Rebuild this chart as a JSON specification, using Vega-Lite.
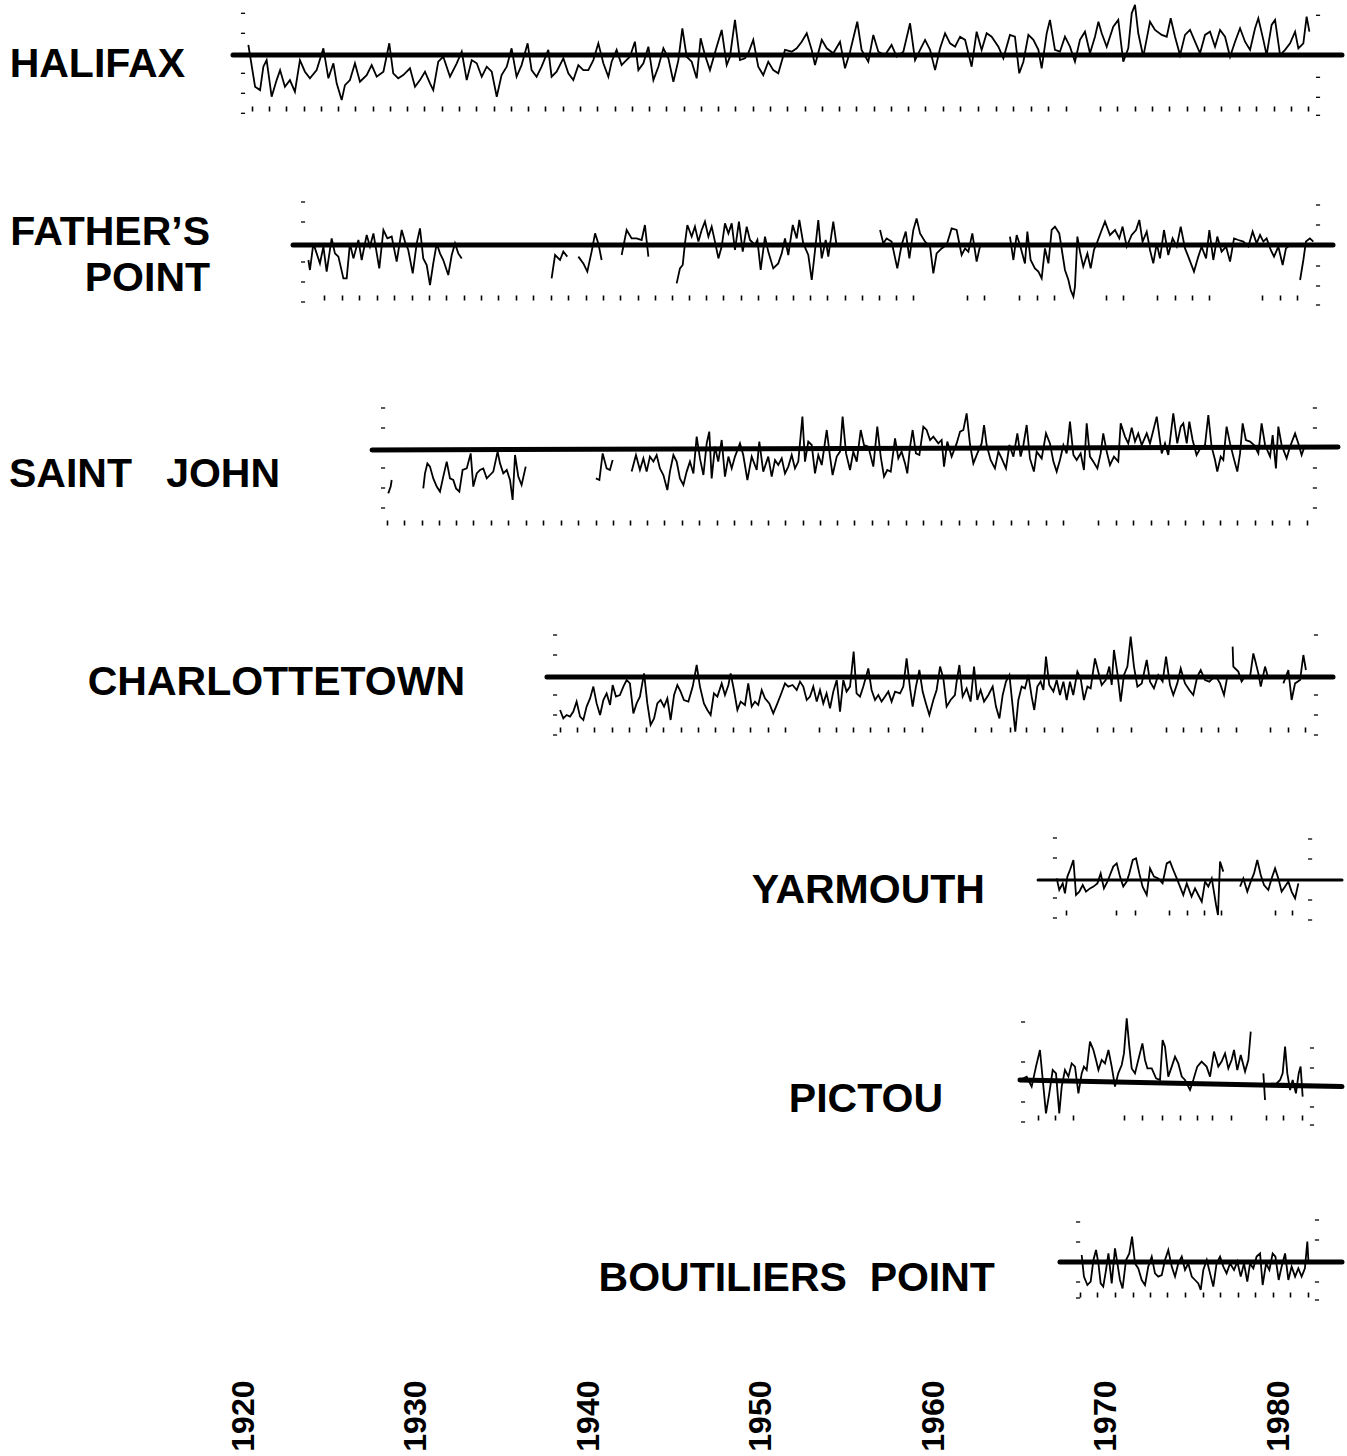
{
"$schema": "https://vega.github.io/schema/vega-lite/v6.json",
"padding": 0,
"background": "white",
"spacing": 0,
"bounds": "flush",
"resolve": {"scale": {"x": "independent", "y": "independent"}, "axis": {"x": "independent", "y": "independent"}},
"config": {"view": {"stroke": null}, "concat": {"spacing": 0}},
"datasets": {
"hal": [
{"t":1920.31,"v":0.42},{"t":1920.70,"v":-1.67},{"t":1920.99,"v":-1.84},{"t":1921.18,"v":-0.67},{"t":1921.37,"v":-0.34},{"t":1921.66,"v":-2.17},{"t":1921.95,"v":-1.34},{"t":1922.15,"v":-0.84},{"t":1922.43,"v":-1.67},{"t":1922.72,"v":-1.34},{"t":1923.01,"v":-1.92},{"t":1923.30,"v":-0.34},{"t":1923.59,"v":-0.92},{"t":1923.88,"v":-1.25},{"t":1924.27,"v":-0.84},{"t":1924.66,"v":0.25},{"t":1924.95,"v":-1.25},{"t":1925.24,"v":-0.50},{"t":1925.43,"v":-1.50},{"t":1925.72,"v":-2.34},{"t":1925.91,"v":-1.59},{"t":1926.20,"v":-1.34},{"t":1926.49,"v":-0.50},{"t":1926.78,"v":-1.42},{"t":1927.17,"v":-1.09},{"t":1927.46,"v":-0.59},{"t":1927.75,"v":-1.17},{"t":1928.14,"v":-0.92},{"t":1928.48,"v":0.50},{"t":1928.71,"v":-1.00},{"t":1929.00,"v":-1.25},{"t":1929.29,"v":-1.09},{"t":1929.68,"v":-0.75},{"t":1929.97,"v":-1.67},{"t":1930.26,"v":-1.34},{"t":1930.55,"v":-0.92},{"t":1930.84,"v":-1.50},{"t":1931.03,"v":-1.84},{"t":1931.32,"v":-0.42},{"t":1931.61,"v":-0.17},{"t":1932.00,"v":-1.17},{"t":1932.39,"v":-0.50},{"t":1932.68,"v":0.08},{"t":1932.97,"v":-1.34},{"t":1933.26,"v":-0.34},{"t":1933.55,"v":-0.50},{"t":1933.84,"v":-1.17},{"t":1934.13,"v":-0.67},{"t":1934.42,"v":-0.92},{"t":1934.71,"v":-2.17},{"t":1934.99,"v":-1.09},{"t":1935.29,"v":-0.67},{"t":1935.57,"v":0.25},{"t":1935.86,"v":-1.17},{"t":1936.15,"v":-0.59},{"t":1936.50,"v":0.50},{"t":1936.73,"v":-0.84},{"t":1937.02,"v":-1.17},{"t":1937.31,"v":-0.67},{"t":1937.70,"v":0.17},{"t":1937.89,"v":-1.17},{"t":1938.18,"v":-0.92},{"t":1938.57,"v":-0.25},{"t":1938.86,"v":-1.00},{"t":1939.15,"v":-1.34},{"t":1939.44,"v":-0.59},{"t":1939.73,"v":-0.84},{"t":1940.02,"v":-0.84},{"t":1940.31,"v":-0.34},{"t":1940.60,"v":0.50},{"t":1940.89,"v":-0.50},{"t":1941.18,"v":-1.17},{"t":1941.37,"v":-0.42},{"t":1941.66,"v":0.17},{"t":1941.95,"v":-0.59},
{"t":1942.14,"v":-0.42},{"t":1942.43,"v":-0.17},{"t":1942.72,"v":0.58},{"t":1942.92,"v":-0.84},{"t":1943.21,"v":-0.50},{"t":1943.50,"v":0.33},{"t":1943.79,"v":-1.34},{"t":1944.08,"v":-0.67},{"t":1944.37,"v":0.25},{"t":1944.66,"v":-0.25},{"t":1944.95,"v":-1.42},{"t":1945.24,"v":-0.34},{"t":1945.47,"v":1.25},{"t":1945.72,"v":-0.17},{"t":1946.01,"v":-0.42},{"t":1946.30,"v":-1.25},{"t":1946.53,"v":0.75},{"t":1946.78,"v":-0.09},{"t":1947.07,"v":-0.84},{"t":1947.46,"v":0.33},{"t":1947.75,"v":1.17},{"t":1948.04,"v":-0.59},{"t":1948.23,"v":-0.17},{"t":1948.52,"v":1.67},{"t":1948.81,"v":-0.34},{"t":1949.10,"v":-0.25},{"t":1949.29,"v":0.00},{"t":1949.58,"v":0.67},{"t":1949.87,"v":-0.67},{"t":1950.16,"v":-1.09},{"t":1950.45,"v":-0.42},{"t":1950.74,"v":-0.84},{"t":1951.03,"v":-1.00},{"t":1951.42,"v":0.17},{"t":1951.81,"v":0.08},{"t":1952.10,"v":0.25},{"t":1952.39,"v":0.58},{"t":1952.68,"v":1.00},{"t":1952.97,"v":0.17},{"t":1953.16,"v":-0.59},{"t":1953.55,"v":0.67},{"t":1953.84,"v":0.25},{"t":1954.22,"v":0.00},{"t":1954.61,"v":0.58},{"t":1954.90,"v":-0.75},{"t":1955.19,"v":0.08},{"t":1955.61,"v":1.58},{"t":1955.86,"v":0.17},{"t":1956.25,"v":-0.42},{"t":1956.54,"v":0.92},{"t":1956.83,"v":0.08},{"t":1957.22,"v":-0.09},{"t":1957.60,"v":0.42},{"t":1957.89,"v":-0.17},{"t":1958.28,"v":0.08},{"t":1958.67,"v":1.50},{"t":1958.96,"v":-0.34},{"t":1959.25,"v":0.17},{"t":1959.54,"v":0.67},{"t":1959.83,"v":0.17},{"t":1960.12,"v":-0.84},{"t":1960.41,"v":0.25},{"t":1960.70,"v":1.00},{"t":1960.99,"v":0.50},{"t":1961.28,"v":0.33},{"t":1961.57,"v":0.83},{"t":1961.86,"v":0.67},{"t":1962.24,"v":-0.67},{"t":1962.53,"v":1.08},{"t":1962.82,"v":0.17},{"t":1963.11,"v":1.00},{"t":1963.40,"v":0.83},{"t":1963.79,"v":0.33},{"t":1964.08,"v":-0.25},{"t":1964.46,"v":0.92},{"t":1964.75,"v":0.83},{"t":1965.00,"v":-1.00},
{"t":1965.24,"v":-0.42},{"t":1965.53,"v":0.92},{"t":1965.82,"v":0.67},{"t":1966.11,"v":0.17},{"t":1966.30,"v":-0.75},{"t":1966.59,"v":1.00},{"t":1966.78,"v":1.67},{"t":1967.07,"v":0.17},{"t":1967.36,"v":0.08},{"t":1967.65,"v":0.83},{"t":1967.94,"v":0.33},{"t":1968.23,"v":-0.42},{"t":1968.52,"v":0.67},{"t":1968.81,"v":1.08},{"t":1969.10,"v":0.00},{"t":1969.39,"v":0.83},{"t":1969.59,"v":1.58},{"t":1969.78,"v":1.00},{"t":1970.07,"v":0.33},{"t":1970.45,"v":1.33},{"t":1970.74,"v":1.67},{"t":1971.03,"v":-0.42},{"t":1971.32,"v":0.25},{"t":1971.52,"v":2.00},{"t":1971.71,"v":2.42},{"t":1971.90,"v":1.00},{"t":1972.19,"v":-0.17},{"t":1972.58,"v":1.58},{"t":1972.87,"v":1.17},{"t":1973.26,"v":0.92},{"t":1973.55,"v":0.83},{"t":1973.78,"v":1.75},{"t":1974.03,"v":0.83},{"t":1974.32,"v":-0.09},{"t":1974.61,"v":0.92},{"t":1974.90,"v":1.17},{"t":1975.19,"v":0.58},{"t":1975.48,"v":0.00},{"t":1975.77,"v":0.92},{"t":1976.06,"v":1.08},{"t":1976.35,"v":0.33},{"t":1976.64,"v":1.17},{"t":1976.93,"v":0.83},{"t":1977.22,"v":-0.17},{"t":1977.51,"v":0.58},{"t":1977.80,"v":1.25},{"t":1978.09,"v":0.58},{"t":1978.38,"v":0.17},{"t":1978.67,"v":1.25},{"t":1978.86,"v":1.75},{"t":1979.15,"v":0.67},{"t":1979.34,"v":-0.09},{"t":1979.63,"v":1.42},{"t":1979.83,"v":1.67},{"t":1980.12,"v":-0.09},{"t":1980.41,"v":0.17},{"t":1980.70,"v":0.50},{"t":1980.99,"v":1.08},{"t":1981.18,"v":0.25},{"t":1981.47,"v":0.50},{"t":1981.66,"v":1.83},{"t":1981.82,"v":1.08}
],
"fat": [
{"t":1923.79,"v":-0.90,"g":1},{"t":1923.88,"v":-1.40,"g":1},{"t":1924.08,"v":-0.07,"g":1},{"t":1924.27,"v":-0.57,"g":1},{"t":1924.46,"v":-1.07,"g":1},{"t":1924.66,"v":-0.23,"g":1},{"t":1924.85,"v":-1.48,"g":1},{"t":1925.14,"v":0.18,"g":1},{"t":1925.33,"v":-0.57,"g":1},{"t":1925.53,"v":-0.73,"g":1},{"t":1925.82,"v":-1.82,"g":1},{"t":1926.01,"v":-1.82,"g":1},{"t":1926.20,"v":-0.07,"g":1},{"t":1926.40,"v":-0.82,"g":1},{"t":1926.69,"v":0.10,"g":1},{"t":1926.88,"v":-0.90,"g":1},{"t":1927.17,"v":0.35,"g":1},{"t":1927.36,"v":-0.23,"g":1},{"t":1927.56,"v":0.43,"g":1},{"t":1927.90,"v":-1.32,"g":1},{"t":1928.14,"v":0.60,"g":1},{"t":1928.37,"v":0.18,"g":1},{"t":1928.62,"v":0.27,"g":1},{"t":1928.91,"v":-0.98,"g":1},{"t":1929.20,"v":0.60,"g":1},{"t":1929.39,"v":0.02,"g":1},{"t":1929.58,"v":-0.40,"g":1},{"t":1929.84,"v":-1.57,"g":1},{"t":1930.07,"v":-0.07,"g":1},{"t":1930.26,"v":0.68,"g":1},{"t":1930.45,"v":-0.82,"g":1},{"t":1930.65,"v":-1.15,"g":1},{"t":1930.84,"v":-2.15,"g":1},{"t":1931.03,"v":-1.07,"g":1},{"t":1931.23,"v":-0.07,"g":1},{"t":1931.42,"v":-0.57,"g":1},{"t":1931.61,"v":-0.90,"g":1},{"t":1931.90,"v":-1.65,"g":1},{"t":1932.10,"v":-0.65,"g":1},{"t":1932.29,"v":-0.07,"g":1},{"t":1932.48,"v":-0.57,"g":1},{"t":1932.68,"v":-0.82,"g":1},
{"t":1937.89,"v":-1.82,"g":2},{"t":1938.09,"v":-0.65,"g":2},{"t":1938.38,"v":-0.90,"g":2},{"t":1938.57,"v":-0.48,"g":2},{"t":1938.80,"v":-0.73,"g":2},
{"t":1939.44,"v":-0.73,"g":3},{"t":1939.73,"v":-1.07,"g":3},{"t":1939.96,"v":-1.48,"g":3},{"t":1940.21,"v":-0.48,"g":3},{"t":1940.41,"v":0.43,"g":3},{"t":1940.60,"v":-0.07,"g":3},{"t":1940.79,"v":-0.90,"g":3},
{"t":1941.95,"v":-0.65,"g":4},{"t":1942.24,"v":0.60,"g":4},{"t":1942.53,"v":0.18,"g":4},{"t":1942.82,"v":0.18,"g":4},{"t":1943.11,"v":0.10,"g":4},{"t":1943.30,"v":0.85,"g":4},{"t":1943.50,"v":-0.73,"g":4},
{"t":1945.14,"v":-2.07,"g":5},{"t":1945.33,"v":-1.32,"g":5},{"t":1945.49,"v":-1.15,"g":5},{"t":1945.62,"v":-0.07,"g":5},{"t":1945.76,"v":0.85,"g":5},{"t":1946.01,"v":0.27,"g":5},{"t":1946.20,"v":0.77,"g":5},{"t":1946.40,"v":0.02,"g":5},{"t":1946.59,"v":0.60,"g":5},{"t":1946.78,"v":1.02,"g":5},{"t":1946.98,"v":0.27,"g":5},{"t":1947.17,"v":0.77,"g":5},{"t":1947.36,"v":0.02,"g":5},{"t":1947.56,"v":-0.82,"g":5},{"t":1947.75,"v":-0.23,"g":5},{"t":1947.94,"v":0.93,"g":5},{"t":1948.14,"v":0.43,"g":5},{"t":1948.33,"v":0.93,"g":5},{"t":1948.52,"v":-0.40,"g":5},{"t":1948.75,"v":1.02,"g":5},{"t":1948.97,"v":-0.48,"g":5},{"t":1949.20,"v":0.77,"g":5},{"t":1949.39,"v":0.10,"g":5},{"t":1949.68,"v":-0.15,"g":5},{"t":1949.82,"v":0.10,"g":5},{"t":1950.01,"v":-1.40,"g":5},{"t":1950.26,"v":0.27,"g":5},{"t":1950.45,"v":-0.48,"g":5},{"t":1950.74,"v":-1.32,"g":5},{"t":1951.03,"v":-1.07,"g":5},{"t":1951.23,"v":-0.57,"g":5},{"t":1951.42,"v":0.18,"g":5},{"t":1951.61,"v":-0.65,"g":5},{"t":1951.87,"v":0.85,"g":5},{"t":1952.10,"v":0.18,"g":5},{"t":1952.25,"v":1.10,"g":5},{"t":1952.48,"v":-0.07,"g":5},{"t":1952.77,"v":-0.65,"g":5},{"t":1952.97,"v":-1.90,"g":5},{"t":1953.10,"v":-0.90,"g":5},{"t":1953.35,"v":1.10,"g":5},{"t":1953.55,"v":-0.82,"g":5},{"t":1953.78,"v":0.10,"g":5},{"t":1953.93,"v":-0.73,"g":5},{"t":1954.22,"v":1.02,"g":5},{"t":1954.42,"v":-0.23,"g":5},
{"t":1956.93,"v":0.60,"g":6},{"t":1957.12,"v":-0.07,"g":6},{"t":1957.31,"v":0.18,"g":6},{"t":1957.60,"v":0.02,"g":6},{"t":1957.93,"v":-1.32,"g":6},{"t":1958.18,"v":-0.15,"g":6},{"t":1958.42,"v":0.52,"g":6},{"t":1958.63,"v":-0.82,"g":6},{"t":1958.86,"v":0.60,"g":6},{"t":1959.05,"v":1.18,"g":6},{"t":1959.25,"v":0.43,"g":6},{"t":1959.54,"v":0.02,"g":6},{"t":1959.83,"v":-0.23,"g":6},{"t":1960.02,"v":-1.57,"g":6},{"t":1960.21,"v":-0.57,"g":6},{"t":1960.50,"v":-0.32,"g":6},{"t":1960.79,"v":-0.15,"g":6},{"t":1961.08,"v":0.68,"g":6},{"t":1961.37,"v":0.60,"g":6},{"t":1961.66,"v":-0.65,"g":6},{"t":1961.86,"v":-0.32,"g":6},{"t":1962.05,"v":-0.48,"g":6},{"t":1962.28,"v":0.43,"g":6},{"t":1962.53,"v":-0.98,"g":6},{"t":1962.72,"v":-0.23,"g":6},
{"t":1964.46,"v":0.27,"g":7},{"t":1964.66,"v":-0.90,"g":7},{"t":1964.85,"v":0.35,"g":7},{"t":1965.04,"v":-0.15,"g":7},{"t":1965.33,"v":-1.07,"g":7},{"t":1965.47,"v":0.52,"g":7},{"t":1965.66,"v":-0.90,"g":7},{"t":1965.91,"v":-1.32,"g":7},{"t":1966.11,"v":-1.48,"g":7},{"t":1966.30,"v":-1.82,"g":7},{"t":1966.49,"v":-0.32,"g":7},{"t":1966.69,"v":-1.07,"g":7},{"t":1966.88,"v":0.60,"g":7},{"t":1967.07,"v":0.77,"g":7},{"t":1967.32,"v":0.43,"g":7},{"t":1967.65,"v":-1.40,"g":7},{"t":1967.85,"v":-1.90,"g":7},{"t":1967.98,"v":-2.40,"g":7},{"t":1968.14,"v":-2.73,"g":7},{"t":1968.23,"v":-2.23,"g":7},{"t":1968.37,"v":0.27,"g":7},{"t":1968.52,"v":-0.48,"g":7},{"t":1968.71,"v":-1.23,"g":7},{"t":1968.95,"v":-0.57,"g":7},{"t":1969.14,"v":-1.32,"g":7},{"t":1969.33,"v":-0.40,"g":7},{"t":1969.53,"v":0.02,"g":7},{"t":1969.78,"v":0.60,"g":7},{"t":1969.97,"v":1.02,"g":7},{"t":1970.26,"v":0.35,"g":7},{"t":1970.55,"v":0.60,"g":7},{"t":1970.80,"v":0.18,"g":7},{"t":1970.99,"v":0.77,"g":7},{"t":1971.23,"v":-0.23,"g":7},{"t":1971.52,"v":0.35,"g":7},{"t":1971.77,"v":0.60,"g":7},{"t":1971.96,"v":1.10,"g":7},{"t":1972.15,"v":0.02,"g":7},{"t":1972.39,"v":0.52,"g":7},{"t":1972.58,"v":-0.40,"g":7},{"t":1972.77,"v":-1.07,"g":7},{"t":1972.97,"v":-0.07,"g":7},{"t":1973.16,"v":-0.82,"g":7},{"t":1973.39,"v":0.60,"g":7},{"t":1973.64,"v":-0.65,"g":7},{"t":1973.89,"v":0.18,"g":7},{"t":1974.13,"v":-0.23,"g":7},{"t":1974.36,"v":0.77,"g":7},{"t":1974.61,"v":-0.32,"g":7},{"t":1974.80,"v":-0.73,"g":7},{"t":1975.13,"v":-1.48,"g":7},{"t":1975.38,"v":-0.73,"g":7},{"t":1975.57,"v":-0.23,"g":7},{"t":1975.83,"v":-0.82,"g":7},{"t":1976.02,"v":0.60,"g":7},{"t":1976.25,"v":-0.90,"g":7},{"t":1976.48,"v":0.27,"g":7},{"t":1976.73,"v":-0.48,"g":7},{"t":1976.99,"v":-0.23,"g":7},{"t":1977.22,"v":-0.98,"g":7},{"t":1977.45,"v":0.18,"g":7},{"t":1977.70,"v":0.10,"g":7},{"t":1977.99,"v":0.02,"g":7},{"t":1978.28,"v":-0.23,"g":7},{"t":1978.53,"v":0.52,"g":7},{"t":1978.76,"v":-0.07,"g":7},{"t":1978.96,"v":0.35,"g":7},{"t":1979.15,"v":0.02,"g":7},{"t":1979.34,"v":0.18,"g":7},{"t":1979.58,"v":-0.40,"g":7},{"t":1979.77,"v":-0.73,"g":7},{"t":1980.02,"v":-0.23,"g":7},{"t":1980.27,"v":-1.15,"g":7},{"t":1980.46,"v":-0.32,"g":7},{"t":1980.70,"v":-0.15,"g":7},
{"t":1981.28,"v":-1.90,"g":8},{"t":1981.47,"v":-0.90,"g":8},{"t":1981.62,"v":0.02,"g":8},{"t":1981.85,"v":0.18,"g":8},{"t":1982.05,"v":0.02,"g":8}
],
"sj": [
{"t":1928.42,"v":-2.27,"g":1},{"t":1928.56,"v":-1.93,"g":1},{"t":1928.62,"v":-1.60,"g":1},
{"t":1930.45,"v":-2.02,"g":2},{"t":1930.55,"v":-1.27,"g":2},{"t":1930.69,"v":-0.77,"g":2},{"t":1930.84,"v":-0.93,"g":2},{"t":1931.03,"v":-1.52,"g":2},{"t":1931.23,"v":-1.93,"g":2},{"t":1931.42,"v":-2.18,"g":2},{"t":1931.61,"v":-1.43,"g":2},{"t":1931.81,"v":-0.68,"g":2},{"t":1932.00,"v":-1.52,"g":2},{"t":1932.19,"v":-1.60,"g":2},{"t":1932.35,"v":-2.02,"g":2},{"t":1932.54,"v":-2.18,"g":2},{"t":1932.73,"v":-1.10,"g":2},{"t":1932.97,"v":-1.02,"g":2},{"t":1933.20,"v":-0.27,"g":2},{"t":1933.35,"v":-1.93,"g":2},{"t":1933.55,"v":-1.27,"g":2},{"t":1933.74,"v":-1.10,"g":2},{"t":1933.93,"v":-1.02,"g":2},{"t":1934.13,"v":-1.52,"g":2},{"t":1934.32,"v":-1.35,"g":2},{"t":1934.51,"v":-1.18,"g":2},{"t":1934.76,"v":-0.18,"g":2},{"t":1934.90,"v":-0.77,"g":2},{"t":1935.09,"v":-1.27,"g":2},{"t":1935.29,"v":-1.10,"g":2},{"t":1935.48,"v":-1.60,"g":2},{"t":1935.63,"v":-2.60,"g":2},{"t":1935.77,"v":-0.35,"g":2},{"t":1935.96,"v":-1.43,"g":2},{"t":1936.15,"v":-1.85,"g":2},{"t":1936.39,"v":-0.93,"g":2},
{"t":1940.46,"v":-1.52,"g":3},{"t":1940.66,"v":-1.60,"g":3},{"t":1940.85,"v":-0.27,"g":3},{"t":1941.08,"v":-1.02,"g":3},{"t":1941.27,"v":-1.10,"g":3},{"t":1941.43,"v":-0.60,"g":3},
{"t":1942.53,"v":-1.18,"g":4},{"t":1942.78,"v":-0.35,"g":4},{"t":1943.01,"v":-1.10,"g":4},{"t":1943.21,"v":-0.52,"g":4},{"t":1943.40,"v":-1.18,"g":4},{"t":1943.59,"v":-0.43,"g":4},{"t":1943.79,"v":-0.68,"g":4},{"t":1943.98,"v":-0.35,"g":4},{"t":1944.17,"v":-1.02,"g":4},{"t":1944.37,"v":-1.35,"g":4},{"t":1944.60,"v":-2.10,"g":4},{"t":1944.75,"v":-1.18,"g":4},{"t":1944.95,"v":-0.35,"g":4},{"t":1945.14,"v":-0.68,"g":4},{"t":1945.33,"v":-1.52,"g":4},{"t":1945.53,"v":-1.85,"g":4},{"t":1945.72,"v":-1.18,"g":4},{"t":1945.91,"v":-0.68,"g":4},{"t":1946.11,"v":-1.27,"g":4},{"t":1946.30,"v":0.57,"g":4},{"t":1946.49,"v":-0.52,"g":4},{"t":1946.69,"v":-1.35,"g":4},{"t":1946.88,"v":0.23,"g":4},{"t":1947.03,"v":0.82,"g":4},{"t":1947.17,"v":-1.52,"g":4},{"t":1947.36,"v":0.07,"g":4},{"t":1947.55,"v":-0.68,"g":4},{"t":1947.75,"v":0.40,"g":4},{"t":1947.94,"v":-1.43,"g":4},{"t":1948.14,"v":-0.43,"g":4},{"t":1948.33,"v":-1.02,"g":4},{"t":1948.52,"v":-0.43,"g":4},{"t":1948.81,"v":0.23,"g":4},{"t":1949.00,"v":-0.35,"g":4},{"t":1949.24,"v":-1.60,"g":4},{"t":1949.49,"v":-0.43,"g":4},{"t":1949.78,"v":-1.10,"g":4},{"t":1949.93,"v":0.32,"g":4},{"t":1950.16,"v":-1.18,"g":4},{"t":1950.45,"v":-0.43,"g":4},
{"t":1950.65,"v":-1.43,"g":4},{"t":1950.84,"v":-0.60,"g":4},{"t":1951.03,"v":-0.85,"g":4},{"t":1951.23,"v":-0.52,"g":4},{"t":1951.42,"v":-1.27,"g":4},{"t":1951.61,"v":-0.93,"g":4},{"t":1951.81,"v":-0.35,"g":4},{"t":1952.00,"v":-1.02,"g":4},{"t":1952.19,"v":-0.68,"g":4},{"t":1952.43,"v":1.57,"g":4},{"t":1952.58,"v":-0.68,"g":4},{"t":1952.77,"v":0.32,"g":4},{"t":1952.97,"v":0.15,"g":4},{"t":1953.16,"v":-1.27,"g":4},{"t":1953.35,"v":-0.35,"g":4},{"t":1953.55,"v":-0.85,"g":4},{"t":1953.84,"v":0.90,"g":4},{"t":1954.03,"v":-0.43,"g":4},{"t":1954.18,"v":-1.35,"g":4},{"t":1954.42,"v":-0.43,"g":4},{"t":1954.61,"v":-0.18,"g":4},{"t":1954.76,"v":1.57,"g":4},{"t":1954.96,"v":-0.27,"g":4},{"t":1955.19,"v":-1.10,"g":4},{"t":1955.38,"v":-0.18,"g":4},{"t":1955.58,"v":-0.68,"g":4},{"t":1955.81,"v":0.90,"g":4},{"t":1956.00,"v":0.15,"g":4},{"t":1956.25,"v":0.07,"g":4},{"t":1956.54,"v":-0.93,"g":4},{"t":1956.77,"v":1.07,"g":4},{"t":1956.97,"v":-0.43,"g":4},{"t":1957.16,"v":-1.43,"g":4},{"t":1957.35,"v":-1.10,"g":4},{"t":1957.55,"v":-1.18,"g":4},{"t":1957.80,"v":0.48,"g":4},{"t":1957.99,"v":-0.52,"g":4},{"t":1958.18,"v":-0.18,"g":4},{"t":1958.38,"v":-0.77,"g":4},{"t":1958.51,"v":-1.27,"g":4},{"t":1958.67,"v":0.07,"g":4},{"t":1958.82,"v":0.90,"g":4},{"t":1959.01,"v":-0.27,"g":4},{"t":1959.21,"v":-0.35,"g":4},{"t":1959.44,"v":1.07,"g":4},{"t":1959.63,"v":0.90,"g":4},{"t":1959.83,"v":0.40,"g":4},{"t":1960.02,"v":0.57,"g":4},{"t":1960.31,"v":0.23,"g":4},{"t":1960.50,"v":0.40,"g":4},{"t":1960.64,"v":-0.93,"g":4},{"t":1960.83,"v":0.32,"g":4},{"t":1961.08,"v":-0.43,"g":4},{"t":1961.37,"v":0.23,"g":4},{"t":1961.57,"v":0.82,"g":4},{"t":1961.76,"v":0.90,"g":4},{"t":1961.95,"v":1.73,"g":4},{"t":1962.15,"v":0.15,"g":4},{"t":1962.34,"v":-0.77,"g":4},{"t":1962.57,"v":-0.27,"g":4},{"t":1962.82,"v":0.23,"g":4},{"t":1962.96,"v":1.15,"g":4},{"t":1963.11,"v":0.15,"g":4},{"t":1963.34,"v":-0.60,"g":4},{"t":1963.59,"v":-1.02,"g":4},{"t":1963.79,"v":-0.18,"g":4},{"t":1963.98,"v":-0.52,"g":4},{"t":1964.23,"v":-1.02,"g":4},{"t":1964.43,"v":0.15,"g":4},{"t":1964.66,"v":-0.43,"g":4},{"t":1964.89,"v":0.73,"g":4},{"t":1965.08,"v":-0.43,"g":4},{"t":1965.24,"v":0.15,"g":4},{"t":1965.43,"v":1.15,"g":4},{"t":1965.62,"v":-0.52,"g":4},{"t":1965.85,"v":-1.18,"g":4},{"t":1966.01,"v":-0.18,"g":4},{"t":1966.30,"v":-0.52,"g":4},{"t":1966.55,"v":0.73,"g":4},{"t":1966.78,"v":0.23,"g":4},{"t":1966.98,"v":-0.68,"g":4},{"t":1967.17,"v":-1.18,"g":4},{"t":1967.36,"v":-0.60,"g":4},{"t":1967.56,"v":0.15,"g":4},{"t":1967.75,"v":-0.27,"g":4},{"t":1967.94,"v":1.32,"g":4},{"t":1968.14,"v":-0.35,"g":4},{"t":1968.33,"v":-0.60,"g":4},{"t":1968.56,"v":-0.27,"g":4},{"t":1968.75,"v":-1.10,"g":4},{"t":1968.91,"v":1.23,"g":4},{"t":1969.10,"v":-0.43,"g":4},{"t":1969.29,"v":-0.68,"g":4},{"t":1969.53,"v":-1.02,"g":4},{"t":1969.72,"v":-0.27,"g":4},{"t":1969.87,"v":0.73,"g":4},{"t":1970.07,"v":-0.18,"g":4},{"t":1970.26,"v":-0.85,"g":4},{"t":1970.49,"v":-0.43,"g":4},{"t":1970.74,"v":-0.68,"g":4},{"t":1970.88,"v":1.23,"g":4},{"t":1971.13,"v":0.57,"g":4},{"t":1971.32,"v":0.23,"g":4},{"t":1971.52,"v":1.02,"g":4},{"t":1971.71,"v":0.32,"g":4},{"t":1971.90,"v":0.73,"g":4},{"t":1972.10,"v":0.15,"g":4},{"t":1972.39,"v":0.73,"g":4},{"t":1972.58,"v":0.23,"g":4},{"t":1972.97,"v":1.57,"g":4},
{"t":1973.26,"v":-0.27,"g":4},{"t":1973.45,"v":0.23,"g":4},{"t":1973.64,"v":-0.35,"g":4},{"t":1973.93,"v":1.73,"g":4},{"t":1974.16,"v":0.23,"g":4},{"t":1974.36,"v":1.07,"g":4},{"t":1974.51,"v":1.23,"g":4},{"t":1974.71,"v":0.23,"g":4},{"t":1974.86,"v":1.32,"g":4},{"t":1975.05,"v":0.40,"g":4},{"t":1975.28,"v":-0.35,"g":4},{"t":1975.52,"v":0.02,"g":4},{"t":1975.77,"v":0.15,"g":4},{"t":1975.96,"v":1.65,"g":4},{"t":1976.15,"v":0.07,"g":4},{"t":1976.35,"v":-0.60,"g":4},{"t":1976.48,"v":-1.18,"g":4},{"t":1976.68,"v":-0.43,"g":4},{"t":1976.83,"v":-0.60,"g":4},{"t":1977.02,"v":1.07,"g":4},{"t":1977.22,"v":0.23,"g":4},{"t":1977.41,"v":-0.43,"g":4},{"t":1977.64,"v":-1.18,"g":4},{"t":1977.80,"v":-0.27,"g":4},{"t":1977.95,"v":1.23,"g":4},{"t":1978.14,"v":0.40,"g":4},{"t":1978.38,"v":0.32,"g":4},{"t":1978.61,"v":0.15,"g":4},{"t":1978.86,"v":-0.27,"g":4},{"t":1979.05,"v":1.23,"g":4},{"t":1979.25,"v":0.15,"g":4},{"t":1979.54,"v":-0.43,"g":4},{"t":1979.69,"v":0.65,"g":4},{"t":1979.88,"v":-1.02,"g":4},{"t":1980.02,"v":1.07,"g":4},{"t":1980.21,"v":0.15,"g":4},{"t":1980.50,"v":-0.52,"g":4},{"t":1980.70,"v":0.07,"g":4},{"t":1980.99,"v":0.73,"g":4},{"t":1981.18,"v":0.23,"g":4},{"t":1981.37,"v":-0.35,"g":4},{"t":1981.57,"v":0.15,"g":4}
],
"cha": [
{"t":1938.38,"v":-1.75,"g":1},{"t":1938.57,"v":-2.17,"g":1},{"t":1938.76,"v":-2.00,"g":1},{"t":1938.96,"v":-2.08,"g":1},{"t":1939.15,"v":-1.83,"g":1},{"t":1939.34,"v":-1.33,"g":1},{"t":1939.54,"v":-2.08,"g":1},{"t":1939.73,"v":-2.25,"g":1},{"t":1939.92,"v":-1.58,"g":1},{"t":1940.12,"v":-1.17,"g":1},{"t":1940.31,"v":-0.58,"g":1},{"t":1940.50,"v":-1.42,"g":1},{"t":1940.70,"v":-2.00,"g":1},{"t":1940.89,"v":-1.25,"g":1},{"t":1941.08,"v":-0.92,"g":1},{"t":1941.28,"v":-1.50,"g":1},{"t":1941.43,"v":-0.50,"g":1},{"t":1941.62,"v":-1.08,"g":1},{"t":1941.85,"v":-1.00,"g":1},{"t":1942.05,"v":-0.58,"g":1},{"t":1942.24,"v":-0.25,"g":1},{"t":1942.43,"v":-0.42,"g":1},{"t":1942.63,"v":-1.92,"g":1},{"t":1942.82,"v":-1.42,"g":1},{"t":1943.01,"v":-1.08,"g":1},{"t":1943.25,"v":0.08,"g":1},{"t":1943.44,"v":-1.42,"g":1},{"t":1943.63,"v":-2.50,"g":1},{"t":1943.83,"v":-2.17,"g":1},{"t":1944.02,"v":-1.42,"g":1},{"t":1944.21,"v":-1.25,"g":1},{"t":1944.41,"v":-1.58,"g":1},{"t":1944.60,"v":-1.17,"g":1},{"t":1944.79,"v":-2.25,"g":1},{"t":1944.99,"v":-1.00,"g":1},{"t":1945.18,"v":-0.50,"g":1},{"t":1945.37,"v":-0.83,"g":1},{"t":1945.56,"v":-1.25,"g":1},{"t":1945.82,"v":-1.33,"g":1},{"t":1946.07,"v":-0.58,"g":1},{"t":1946.30,"v":0.50,"g":1},{"t":1946.49,"v":-0.58,"g":1},{"t":1946.72,"v":-1.42,"g":1},{"t":1946.92,"v":-1.75,"g":1},{"t":1947.11,"v":-2.00,"g":1},{"t":1947.30,"v":-0.92,"g":1},{"t":1947.50,"v":-1.08,"g":1},{"t":1947.75,"v":-0.42,"g":1},{"t":1947.94,"v":-1.00,"g":1},{"t":1948.14,"v":-0.50,"g":1},{"t":1948.27,"v":0.08,"g":1},{"t":1948.46,"v":-0.75,"g":1},{"t":1948.66,"v":-1.75,"g":1},{"t":1948.85,"v":-1.33,"g":1},{"t":1949.10,"v":-1.50,"g":1},{"t":1949.29,"v":-0.42,"g":1},{"t":1949.49,"v":-1.58,"g":1},{"t":1949.68,"v":-1.33,"g":1},{"t":1949.87,"v":-1.50,"g":1},{"t":1950.07,"v":-0.75,"g":1},{"t":1950.26,"v":-1.17,"g":1},{"t":1950.51,"v":-1.42,"g":1},{"t":1950.74,"v":-1.92,"g":1},{"t":1950.98,"v":-1.42,"g":1},{"t":1951.17,"v":-1.00,"g":1},{"t":1951.42,"v":-0.42,"g":1},{"t":1951.61,"v":-0.58,"g":1},{"t":1951.86,"v":-0.50,"g":1},{"t":1952.10,"v":-0.75,"g":1},{"t":1952.29,"v":-0.33,"g":1},{"t":1952.48,"v":-0.58,"g":1},{"t":1952.68,"v":-1.25,"g":1},{"t":1952.87,"v":-1.08,"g":1},{"t":1953.06,"v":-0.58,"g":1},{"t":1953.26,"v":-1.33,"g":1},{"t":1953.45,"v":-0.75,"g":1},{"t":1953.64,"v":-1.42,"g":1},{"t":1953.83,"v":-0.92,"g":1},{"t":1954.03,"v":-1.67,"g":1},{"t":1954.22,"v":-0.83,"g":1},{"t":1954.42,"v":-0.25,"g":1},{"t":1954.61,"v":-1.83,"g":1},{"t":1954.80,"v":-0.25,"g":1},{"t":1954.99,"v":-0.83,"g":1},{"t":1955.19,"v":-0.58,"g":1},{"t":1955.40,"v":1.17,"g":1},{"t":1955.57,"v":-0.92,"g":1},{"t":1955.77,"v":-1.08,"g":1},{"t":1955.96,"v":-0.58,"g":1},{"t":1956.25,"v":0.33,"g":1},{"t":1956.44,"v":-0.75,"g":1},{"t":1956.64,"v":-1.25,"g":1},{"t":1956.83,"v":-1.00,"g":1},{"t":1957.02,"v":-1.33,"g":1},{"t":1957.22,"v":-1.08,"g":1},{"t":1957.41,"v":-0.83,"g":1},{"t":1957.60,"v":-1.33,"g":1},{"t":1957.80,"v":-0.83,"g":1},{"t":1958.09,"v":-0.92,"g":1},{"t":1958.28,"v":-0.58,"g":1},{"t":1958.47,"v":0.83,"g":1},{"t":1958.67,"v":-0.67,"g":1},{"t":1958.82,"v":-1.58,"g":1},{"t":1959.01,"v":-0.58,"g":1},{"t":1959.21,"v":0.25,"g":1},{"t":1959.40,"v":-0.83,"g":1},{"t":1959.59,"v":-1.42,"g":1},{"t":1959.79,"v":-2.00,"g":1},{"t":1960.02,"v":-1.25,"g":1},{"t":1960.21,"v":-0.75,"g":1},{"t":1960.41,"v":0.42,"g":1},{"t":1960.60,"v":-0.17,"g":1},{"t":1960.79,"v":-1.58,"g":1},{"t":1961.02,"v":-1.25,"g":1},{"t":1961.27,"v":-1.00,"g":1},
{"t":1961.37,"v":-0.33,"g":1},{"t":1961.53,"v":0.50,"g":1},{"t":1961.72,"v":-1.08,"g":1},{"t":1961.95,"v":-0.67,"g":1},{"t":1962.18,"v":-1.33,"g":1},{"t":1962.38,"v":0.42,"g":1},{"t":1962.57,"v":-1.25,"g":1},{"t":1962.76,"v":-0.75,"g":1},{"t":1962.96,"v":-1.33,"g":1},{"t":1963.21,"v":-1.00,"g":1},{"t":1963.46,"v":-0.58,"g":1},{"t":1963.65,"v":-1.58,"g":1},{"t":1963.85,"v":-2.17,"g":1},{"t":1964.04,"v":-1.00,"g":1},{"t":1964.23,"v":-0.33,"g":1},{"t":1964.43,"v":0.00,"g":1},{"t":1964.62,"v":-1.58,"g":1},{"t":1964.77,"v":-2.83,"g":1},{"t":1964.95,"v":-1.25,"g":1},{"t":1965.14,"v":-0.58,"g":1},{"t":1965.33,"v":-0.67,"g":1},{"t":1965.53,"v":0.00,"g":1},{"t":1965.72,"v":-1.08,"g":1},{"t":1965.87,"v":-1.75,"g":1},{"t":1966.05,"v":-0.58,"g":1},{"t":1966.24,"v":-0.33,"g":1},{"t":1966.40,"v":-0.75,"g":1},{"t":1966.55,"v":0.92,"g":1},{"t":1966.74,"v":-0.50,"g":1},{"t":1966.98,"v":-0.83,"g":1},{"t":1967.17,"v":-0.25,"g":1},{"t":1967.36,"v":-1.00,"g":1},{"t":1967.56,"v":-0.33,"g":1},{"t":1967.75,"v":-1.25,"g":1},{"t":1967.94,"v":-0.33,"g":1},{"t":1968.13,"v":-1.00,"g":1},{"t":1968.37,"v":0.17,"g":1},{"t":1968.56,"v":-0.17,"g":1},{"t":1968.75,"v":-1.25,"g":1},{"t":1968.95,"v":-0.58,"g":1},{"t":1969.14,"v":-0.67,"g":1},{"t":1969.39,"v":0.83,"g":1},{"t":1969.58,"v":0.17,"g":1},{"t":1969.78,"v":-0.50,"g":1},{"t":1970.01,"v":-0.25,"g":1},{"t":1970.22,"v":0.42,"g":1},{"t":1970.36,"v":-0.50,"g":1},{"t":1970.49,"v":1.25,"g":1},{"t":1970.69,"v":0.08,"g":1},{"t":1970.88,"v":-1.33,"g":1},{"t":1971.07,"v":0.00,"g":1},{"t":1971.27,"v":0.42,"g":1},{"t":1971.46,"v":1.92,"g":1},{"t":1971.65,"v":0.42,"g":1},{"t":1971.85,"v":-0.58,"g":1},{"t":1972.10,"v":-0.42,"g":1},{"t":1972.39,"v":0.75,"g":1},{"t":1972.58,"v":-0.33,"g":1},{"t":1972.81,"v":-0.67,"g":1},{"t":1973.06,"v":0.00,"g":1},{"t":1973.31,"v":-0.33,"g":1},{"t":1973.51,"v":0.92,"g":1},{"t":1973.74,"v":-0.50,"g":1},{"t":1973.93,"v":-1.00,"g":1},{"t":1974.16,"v":-0.42,"g":1},{"t":1974.36,"v":0.33,"g":1},{"t":1974.61,"v":-0.42,"g":1},{"t":1974.86,"v":-0.75,"g":1},{"t":1975.09,"v":-1.00,"g":1},{"t":1975.32,"v":-0.08,"g":1},{"t":1975.52,"v":0.25,"g":1},{"t":1975.77,"v":-0.25,"g":1},{"t":1976.02,"v":-0.33,"g":1},{"t":1976.21,"v":-0.17,"g":1},{"t":1976.41,"v":-0.08,"g":1},{"t":1976.64,"v":-0.42,"g":1},{"t":1976.87,"v":-1.00,"g":1},{"t":1977.06,"v":-0.08,"g":1},
{"t":1977.37,"v":1.42,"g":2},{"t":1977.41,"v":0.42,"g":2},{"t":1977.70,"v":0.17,"g":2},{"t":1977.89,"v":-0.33,"g":2},{"t":1978.09,"v":-0.08,"g":2},{"t":1978.38,"v":-0.08,"g":2},{"t":1978.57,"v":1.08,"g":2},{"t":1978.67,"v":0.75,"g":2},{"t":1978.86,"v":0.08,"g":2},{"t":1979.00,"v":-0.58,"g":2},{"t":1979.25,"v":0.42,"g":2},{"t":1979.44,"v":-0.17,"g":2},
{"t":1980.31,"v":-0.42,"g":3},{"t":1980.60,"v":0.25,"g":3},{"t":1980.79,"v":-1.25,"g":3},{"t":1980.99,"v":-0.42,"g":3},{"t":1981.28,"v":-0.25,"g":3},{"t":1981.47,"v":1.00,"g":3},{"t":1981.62,"v":0.25,"g":3}
],
"yar": [
{"t":1967.17,"v":-0.02,"g":1},{"t":1967.32,"v":-0.60,"g":1},{"t":1967.52,"v":-0.27,"g":1},{"t":1967.65,"v":-0.77,"g":1},{"t":1967.79,"v":0.07,"g":1},{"t":1967.94,"v":0.40,"g":1},{"t":1968.14,"v":0.90,"g":1},{"t":1968.29,"v":-0.85,"g":1},{"t":1968.48,"v":-0.68,"g":1},{"t":1968.68,"v":-0.35,"g":1},{"t":1968.87,"v":-0.68,"g":1},{"t":1969.10,"v":-0.52,"g":1},{"t":1969.30,"v":-0.43,"g":1},{"t":1969.53,"v":-0.27,"g":1},{"t":1969.72,"v":0.23,"g":1},{"t":1969.91,"v":-0.52,"g":1},{"t":1970.11,"v":-0.18,"g":1},{"t":1970.26,"v":0.15,"g":1},{"t":1970.45,"v":0.57,"g":1},{"t":1970.65,"v":0.73,"g":1},{"t":1970.84,"v":0.07,"g":1},{"t":1971.03,"v":-0.43,"g":1},{"t":1971.23,"v":-0.18,"g":1},{"t":1971.38,"v":0.23,"g":1},{"t":1971.58,"v":0.90,"g":1},{"t":1971.77,"v":0.98,"g":1},{"t":1971.96,"v":0.23,"g":1},{"t":1972.15,"v":-0.43,"g":1},{"t":1972.39,"v":-0.85,"g":1},{"t":1972.58,"v":0.48,"g":1},{"t":1972.81,"v":0.07,"g":1},{"t":1973.06,"v":-0.02,"g":1},{"t":1973.31,"v":-0.27,"g":1},{"t":1973.55,"v":0.73,"g":1},{"t":1973.74,"v":0.82,"g":1},{"t":1973.93,"v":0.40,"g":1},{"t":1974.13,"v":-0.02,"g":1},{"t":1974.32,"v":-0.43,"g":1},{"t":1974.51,"v":-0.85,"g":1},{"t":1974.71,"v":-0.27,"g":1},{"t":1974.99,"v":-0.93,"g":1},{"t":1975.19,"v":-0.52,"g":1},{"t":1975.38,"v":-0.85,"g":1},{"t":1975.58,"v":-1.18,"g":1},{"t":1975.77,"v":-0.18,"g":1},{"t":1975.96,"v":-0.43,"g":1},{"t":1976.16,"v":-0.02,"g":1},{"t":1976.41,"v":-1.35,"g":1},{"t":1976.52,"v":-1.85,"g":1},{"t":1976.64,"v":0.82,"g":1},{"t":1976.83,"v":0.32,"g":1},
{"t":1977.80,"v":-0.43,"g":2},{"t":1977.99,"v":-0.02,"g":2},{"t":1978.22,"v":-0.68,"g":2},{"t":1978.42,"v":-0.18,"g":2},{"t":1978.61,"v":0.23,"g":2},{"t":1978.80,"v":0.90,"g":2},{"t":1979.00,"v":0.15,"g":2},{"t":1979.19,"v":-0.35,"g":2},{"t":1979.44,"v":-0.60,"g":2},{"t":1979.63,"v":-0.02,"g":2},{"t":1979.83,"v":0.48,"g":2},{"t":1980.02,"v":-0.02,"g":2},{"t":1980.21,"v":-0.68,"g":2},{"t":1980.41,"v":-0.43,"g":2},{"t":1980.60,"v":-0.18,"g":2},{"t":1980.79,"v":-0.68,"g":2},{"t":1980.99,"v":-1.02,"g":2},{"t":1981.18,"v":-0.27,"g":2}
],
"pic": [
{"t":1965.04,"v":0.10,"g":1},{"t":1965.43,"v":0.27,"g":1},{"t":1965.72,"v":-0.23,"g":1},{"t":1965.97,"v":0.77,"g":1},{"t":1966.20,"v":1.60,"g":1},{"t":1966.40,"v":-0.23,"g":1},{"t":1966.55,"v":-1.57,"g":1},{"t":1966.74,"v":-0.57,"g":1},{"t":1966.94,"v":0.60,"g":1},{"t":1967.13,"v":0.43,"g":1},{"t":1967.32,"v":-1.57,"g":1},{"t":1967.46,"v":-0.23,"g":1},{"t":1967.65,"v":0.60,"g":1},{"t":1967.85,"v":0.27,"g":1},{"t":1968.04,"v":0.93,"g":1},{"t":1968.23,"v":0.77,"g":1},{"t":1968.43,"v":-0.57,"g":1},{"t":1968.62,"v":0.43,"g":1},{"t":1968.75,"v":0.77,"g":1},{"t":1968.91,"v":0.60,"g":1},{"t":1969.10,"v":2.02,"g":1},{"t":1969.30,"v":1.60,"g":1},{"t":1969.45,"v":1.10,"g":1},{"t":1969.59,"v":0.60,"g":1},{"t":1969.78,"v":1.10,"g":1},{"t":1969.97,"v":0.93,"g":1},{"t":1970.17,"v":1.60,"g":1},{"t":1970.36,"v":0.77,"g":1},{"t":1970.55,"v":-0.23,"g":1},{"t":1970.74,"v":0.43,"g":1},{"t":1970.94,"v":0.85,"g":1},{"t":1971.07,"v":1.43,"g":1},{"t":1971.23,"v":3.18,"g":1},{"t":1971.38,"v":1.77,"g":1},{"t":1971.52,"v":0.68,"g":1},{"t":1971.71,"v":0.43,"g":1},{"t":1971.90,"v":1.10,"g":1},{"t":1972.14,"v":1.93,"g":1},{"t":1972.29,"v":1.10,"g":1},{"t":1972.43,"v":0.68,"g":1},{"t":1972.68,"v":0.68,"g":1},{"t":1972.93,"v":0.18,"g":1},{"t":1973.16,"v":0.10,"g":1},{"t":1973.31,"v":2.10,"g":1},{"t":1973.45,"v":1.77,"g":1},{"t":1973.64,"v":0.27,"g":1},{"t":1973.84,"v":0.77,"g":1},{"t":1974.03,"v":1.27,"g":1},{"t":1974.22,"v":0.93,"g":1},{"t":1974.42,"v":0.27,"g":1},{"t":1974.61,"v":0.10,"g":1},{"t":1974.90,"v":-0.40,"g":1},{"t":1975.09,"v":0.10,"g":1},{"t":1975.32,"v":0.77,"g":1},{"t":1975.57,"v":1.02,"g":1},{"t":1975.86,"v":0.77,"g":1},{"t":1976.06,"v":0.27,"g":1},{"t":1976.29,"v":1.52,"g":1},{"t":1976.54,"v":0.77,"g":1},{"t":1976.73,"v":1.02,"g":1},{"t":1976.93,"v":1.43,"g":1},{"t":1977.12,"v":0.68,"g":1},{"t":1977.31,"v":1.10,"g":1},{"t":1977.45,"v":1.60,"g":1},{"t":1977.64,"v":0.60,"g":1},{"t":1977.84,"v":1.35,"g":1},{"t":1978.09,"v":0.52,"g":1},{"t":1978.28,"v":1.10,"g":1},{"t":1978.42,"v":2.52,"g":1},
{"t":1979.15,"v":0.43,"g":2},{"t":1979.25,"v":-0.90,"g":2},
{"t":1979.92,"v":-0.07,"g":3},{"t":1980.12,"v":0.10,"g":3},{"t":1980.27,"v":0.43,"g":3},{"t":1980.41,"v":1.77,"g":3},{"t":1980.54,"v":0.43,"g":3},{"t":1980.70,"v":-0.40,"g":3},{"t":1980.85,"v":0.10,"g":3},{"t":1981.04,"v":-0.57,"g":3},{"t":1981.20,"v":0.43,"g":3},{"t":1981.31,"v":0.77,"g":3},{"t":1981.43,"v":-0.73,"g":3}
],
"bou": [
{"t":1968.62,"v":0.35},{"t":1968.75,"v":-0.73},{"t":1968.95,"v":-1.15},{"t":1969.14,"v":-0.98},{"t":1969.30,"v":0.10},{"t":1969.45,"v":0.60},{"t":1969.59,"v":-0.07},{"t":1969.72,"v":-1.07},{"t":1969.87,"v":-1.23},{"t":1970.03,"v":-0.40},{"t":1970.17,"v":0.43},{"t":1970.36,"v":-1.07},{"t":1970.55,"v":0.68},{"t":1970.69,"v":-0.07},{"t":1970.84,"v":-0.90},{"t":1970.99,"v":-1.32},{"t":1971.19,"v":0.10},{"t":1971.38,"v":0.43},{"t":1971.54,"v":1.27},{"t":1971.71,"v":-0.07},{"t":1971.90,"v":-0.32},{"t":1972.10,"v":-0.90},{"t":1972.29,"v":-1.15},{"t":1972.48,"v":-0.23},{"t":1972.68,"v":0.27},{"t":1972.87,"v":-0.57},{"t":1973.06,"v":-0.73},{"t":1973.26,"v":-0.65},{"t":1973.45,"v":0.10},{"t":1973.64,"v":0.60},{"t":1973.84,"v":-0.23},{"t":1974.03,"v":-0.73},{"t":1974.22,"v":-0.07},{"t":1974.42,"v":0.27},{"t":1974.61,"v":-0.40},{"t":1974.80,"v":-0.07},{"t":1975.00,"v":-0.73},{"t":1975.19,"v":-0.90},{"t":1975.38,"v":-1.07},{"t":1975.52,"v":-1.40},{"t":1975.67,"v":-0.40},{"t":1975.87,"v":0.10},{"t":1976.06,"v":-0.57},{"t":1976.25,"v":-1.23},{"t":1976.44,"v":-0.07},{"t":1976.64,"v":0.27},{"t":1976.83,"v":-0.23},{"t":1977.02,"v":-0.57},{"t":1977.22,"v":-0.07},{"t":1977.45,"v":-0.40},{"t":1977.64,"v":0.02},{"t":1977.84,"v":-0.73},{"t":1978.03,"v":-0.07},{"t":1978.22,"v":-0.98},{"t":1978.38,"v":-0.07},{"t":1978.57,"v":-0.32},{"t":1978.76,"v":0.27},{"t":1978.96,"v":0.43},{"t":1979.11,"v":-1.15},{"t":1979.31,"v":-0.07},{"t":1979.50,"v":-0.40},{"t":1979.69,"v":0.43},{"t":1979.85,"v":0.27},{"t":1980.04,"v":-0.90},{"t":1980.21,"v":-0.23},{"t":1980.41,"v":0.43},{"t":1980.60,"v":-0.90},{"t":1980.79,"v":-0.23},{"t":1980.99,"v":-0.73},{"t":1981.18,"v":-0.32},{"t":1981.37,"v":-0.73},{"t":1981.56,"v":-0.32},{"t":1981.70,"v":1.02},{"t":1981.76,"v":0.10}
]
},
"vconcat": [
{
"width": 1347, "height": 106,
"layer": [
{"data": {"name": "hal"}, "mark": {"type": "line", "strokeWidth": 1.8, "color": "black", "clip": false},
 "encoding": {"x": {"field": "t", "type": "quantitative", "title": null, "scale": {"domain": [1905.913, 1984.0], "nice": false, "zero": false}, "axis": {"values": [1920.52,1921.52,1922.52,1923.52,1924.52,1925.52,1926.52,1927.52,1928.52,1929.52,1930.52,1931.53,1932.53,1933.53,1934.53,1935.53,1936.53,1937.53,1938.54,1939.54,1940.54,1941.55,1942.55,1943.55,1944.55,1945.55,1946.55,1947.55,1948.55,1949.55,1950.55,1951.55,1952.56,1953.56,1954.56,1955.56,1956.56,1957.56,1958.56,1959.56,1960.57,1961.58,1962.62,1963.63,1964.65,1965.67,1966.68,1967.69,1969.68,1970.69,1971.7,1972.7,1973.7,1974.71,1975.72,1976.72,1977.73,1978.74,1979.74,1980.75,1981.76], "labels": false, "domain": false, "grid": false, "tickSize": 5, "tickWidth": 1.6, "tickColor": "black", "title": null}},
 "y": {"field": "v", "type": "quantitative", "scale": {"domain": [-2.635, 2.665], "nice": false, "zero": false}, "axis": null}}},
{"data": {"values": [{"t": 1919.42, "v": -0.085}, {"t": 1983.71, "v": -0.085}]}, "mark": {"type": "line", "strokeWidth": 5, "color": "black", "strokeCap": "round"},
 "encoding": {"x": {"field": "t", "type": "quantitative", "title": null, "scale": {"domain": [1905.913, 1984.0], "nice": false, "zero": false}, "axis": {"values": [1920.52,1921.52,1922.52,1923.52,1924.52,1925.52,1926.52,1927.52,1928.52,1929.52,1930.52,1931.53,1932.53,1933.53,1934.53,1935.53,1936.53,1937.53,1938.54,1939.54,1940.54,1941.55,1942.55,1943.55,1944.55,1945.55,1946.55,1947.55,1948.55,1949.55,1950.55,1951.55,1952.56,1953.56,1954.56,1955.56,1956.56,1957.56,1958.56,1959.56,1960.57,1961.58,1962.62,1963.63,1964.65,1965.67,1966.68,1967.69,1969.68,1970.69,1971.7,1972.7,1973.7,1974.71,1975.72,1976.72,1977.73,1978.74,1979.74,1980.75,1981.76], "labels": false, "domain": false, "grid": false, "tickSize": 5, "tickWidth": 1.6, "tickColor": "black", "title": null}},
 "y": {"field": "v", "type": "quantitative", "scale": {"domain": [-2.635, 2.665], "nice": false, "zero": false}, "axis": null}}},
{"data": {"values": [{"v": 2}, {"v": 1}, {"v": -1}, {"v": -2}, {"v": -3}]}, "mark": {"type": "rule", "strokeWidth": 1.3, "color": "black"},
 "encoding": {"x": {"datum": 1919.88, "type": "quantitative", "title": null, "scale": {"domain": [1905.913, 1984.0], "nice": false, "zero": false}, "axis": {"values": [1920.52,1921.52,1922.52,1923.52,1924.52,1925.52,1926.52,1927.52,1928.52,1929.52,1930.52,1931.53,1932.53,1933.53,1934.53,1935.53,1936.53,1937.53,1938.54,1939.54,1940.54,1941.55,1942.55,1943.55,1944.55,1945.55,1946.55,1947.55,1948.55,1949.55,1950.55,1951.55,1952.56,1953.56,1954.56,1955.56,1956.56,1957.56,1958.56,1959.56,1960.57,1961.58,1962.62,1963.63,1964.65,1965.67,1966.68,1967.69,1969.68,1970.69,1971.7,1972.7,1973.7,1974.71,1975.72,1976.72,1977.73,1978.74,1979.74,1980.75,1981.76], "labels": false, "domain": false, "grid": false, "tickSize": 5, "tickWidth": 1.6, "tickColor": "black", "title": null}}, "x2": {"datum": 1920.12},
 "y": {"field": "v", "type": "quantitative", "scale": {"domain": [-2.635, 2.665], "nice": false, "zero": false}, "axis": null}}},
{"data": {"values": [{"v": 1.9}, {"v": -1.2}, {"v": -2.2}, {"v": -3.1}]}, "mark": {"type": "rule", "strokeWidth": 1.3, "color": "black"},
 "encoding": {"x": {"datum": 1982.2, "type": "quantitative", "title": null, "scale": {"domain": [1905.913, 1984.0], "nice": false, "zero": false}, "axis": {"values": [1920.52,1921.52,1922.52,1923.52,1924.52,1925.52,1926.52,1927.52,1928.52,1929.52,1930.52,1931.53,1932.53,1933.53,1934.53,1935.53,1936.53,1937.53,1938.54,1939.54,1940.54,1941.55,1942.55,1943.55,1944.55,1945.55,1946.55,1947.55,1948.55,1949.55,1950.55,1951.55,1952.56,1953.56,1954.56,1955.56,1956.56,1957.56,1958.56,1959.56,1960.57,1961.58,1962.62,1963.63,1964.65,1965.67,1966.68,1967.69,1969.68,1970.69,1971.7,1972.7,1973.7,1974.71,1975.72,1976.72,1977.73,1978.74,1979.74,1980.75,1981.76], "labels": false, "domain": false, "grid": false, "tickSize": 5, "tickWidth": 1.6, "tickColor": "black", "title": null}}, "x2": {"datum": 1982.44},
 "y": {"field": "v", "type": "quantitative", "scale": {"domain": [-2.635, 2.665], "nice": false, "zero": false}, "axis": null}}},
{"data": {"values": [{}]}, "mark": {"type": "text", "text": "HALIFAX", "font": "Liberation Sans", "fontWeight": "bold", "fontSize": 41, "align": "right", "baseline": "alphabetic", "color": "black"},
 "encoding": {"x": {"datum": 1916.64, "type": "quantitative", "title": null, "scale": {"domain": [1905.913, 1984.0], "nice": false, "zero": false}, "axis": {"values": [1920.52,1921.52,1922.52,1923.52,1924.52,1925.52,1926.52,1927.52,1928.52,1929.52,1930.52,1931.53,1932.53,1933.53,1934.53,1935.53,1936.53,1937.53,1938.54,1939.54,1940.54,1941.55,1942.55,1943.55,1944.55,1945.55,1946.55,1947.55,1948.55,1949.55,1950.55,1951.55,1952.56,1953.56,1954.56,1955.56,1956.56,1957.56,1958.56,1959.56,1960.57,1961.58,1962.62,1963.63,1964.65,1965.67,1966.68,1967.69,1969.68,1970.69,1971.7,1972.7,1973.7,1974.71,1975.72,1976.72,1977.73,1978.74,1979.74,1980.75,1981.76], "labels": false, "domain": false, "grid": false, "tickSize": 5, "tickWidth": 1.6, "tickColor": "black", "title": null}},
 "y": {"datum": -1.16, "type": "quantitative", "scale": {"domain": [-2.635, 2.665], "nice": false, "zero": false}, "axis": null}}}
]
},
{
"width": 1347, "height": 189,
"layer": [
{"data": {"name": "fat"}, "mark": {"type": "line", "strokeWidth": 1.8, "color": "black", "clip": false},
 "encoding": {"x": {"field": "t", "type": "quantitative", "title": null, "scale": {"domain": [1905.913, 1984.0], "nice": false, "zero": false}, "axis": {"values": [1924.72,1925.73,1926.74,1927.75,1928.77,1929.78,1930.78,1931.78,1932.79,1933.8,1934.8,1935.81,1936.83,1937.84,1938.85,1939.86,1940.86,1941.87,1942.87,1943.87,1944.86,1945.83,1946.84,1947.84,1948.86,1949.87,1950.87,1951.87,1952.87,1953.87,1954.88,1955.87,1956.87,1957.86,1958.86,1961.95,1962.96,1965.0,1966.0,1967.0,1970.0,1971.0,1973.0,1974.0,1975.0,1976.0,1979.1,1980.1,1981.1], "labels": false, "domain": false, "grid": false, "tickSize": 5, "tickWidth": 1.6, "tickColor": "black", "title": null}},
 "y": {"field": "v", "type": "quantitative", "scale": {"domain": [-2.65, 6.8], "nice": false, "zero": false}, "axis": null},
 "detail": {"field": "g", "type": "nominal"}}},
{"data": {"values": [{"t": 1922.9, "v": -0.15}, {"t": 1983.19, "v": -0.15}]}, "mark": {"type": "line", "strokeWidth": 5, "color": "black", "strokeCap": "round"},
 "encoding": {"x": {"field": "t", "type": "quantitative", "title": null, "scale": {"domain": [1905.913, 1984.0], "nice": false, "zero": false}, "axis": {"values": [1924.72,1925.73,1926.74,1927.75,1928.77,1929.78,1930.78,1931.78,1932.79,1933.8,1934.8,1935.81,1936.83,1937.84,1938.85,1939.86,1940.86,1941.87,1942.87,1943.87,1944.86,1945.83,1946.84,1947.84,1948.86,1949.87,1950.87,1951.87,1952.87,1953.87,1954.88,1955.87,1956.87,1957.86,1958.86,1961.95,1962.96,1965.0,1966.0,1967.0,1970.0,1971.0,1973.0,1974.0,1975.0,1976.0,1979.1,1980.1,1981.1], "labels": false, "domain": false, "grid": false, "tickSize": 5, "tickWidth": 1.6, "tickColor": "black", "title": null}},
 "y": {"field": "v", "type": "quantitative", "scale": {"domain": [-2.65, 6.8], "nice": false, "zero": false}, "axis": null}}},
{"data": {"values": [{"v": 2}, {"v": 1}, {"v": -1}, {"v": -2}, {"v": -3}]}, "mark": {"type": "rule", "strokeWidth": 1.3, "color": "black"},
 "encoding": {"x": {"datum": 1923.36, "type": "quantitative", "title": null, "scale": {"domain": [1905.913, 1984.0], "nice": false, "zero": false}, "axis": {"values": [1924.72,1925.73,1926.74,1927.75,1928.77,1929.78,1930.78,1931.78,1932.79,1933.8,1934.8,1935.81,1936.83,1937.84,1938.85,1939.86,1940.86,1941.87,1942.87,1943.87,1944.86,1945.83,1946.84,1947.84,1948.86,1949.87,1950.87,1951.87,1952.87,1953.87,1954.88,1955.87,1956.87,1957.86,1958.86,1961.95,1962.96,1965.0,1966.0,1967.0,1970.0,1971.0,1973.0,1974.0,1975.0,1976.0,1979.1,1980.1,1981.1], "labels": false, "domain": false, "grid": false, "tickSize": 5, "tickWidth": 1.6, "tickColor": "black", "title": null}}, "x2": {"datum": 1923.6},
 "y": {"field": "v", "type": "quantitative", "scale": {"domain": [-2.65, 6.8], "nice": false, "zero": false}, "axis": null}}},
{"data": {"values": [{"v": 1.85}, {"v": 0.85}, {"v": -1.2}, {"v": -2.2}, {"v": -3.15}]}, "mark": {"type": "rule", "strokeWidth": 1.3, "color": "black"},
 "encoding": {"x": {"datum": 1982.2, "type": "quantitative", "title": null, "scale": {"domain": [1905.913, 1984.0], "nice": false, "zero": false}, "axis": {"values": [1924.72,1925.73,1926.74,1927.75,1928.77,1929.78,1930.78,1931.78,1932.79,1933.8,1934.8,1935.81,1936.83,1937.84,1938.85,1939.86,1940.86,1941.87,1942.87,1943.87,1944.86,1945.83,1946.84,1947.84,1948.86,1949.87,1950.87,1951.87,1952.87,1953.87,1954.88,1955.87,1956.87,1957.86,1958.86,1961.95,1962.96,1965.0,1966.0,1967.0,1970.0,1971.0,1973.0,1974.0,1975.0,1976.0,1979.1,1980.1,1981.1], "labels": false, "domain": false, "grid": false, "tickSize": 5, "tickWidth": 1.6, "tickColor": "black", "title": null}}, "x2": {"datum": 1982.44},
 "y": {"field": "v", "type": "quantitative", "scale": {"domain": [-2.65, 6.8], "nice": false, "zero": false}, "axis": null}}},
{"data": {"values": [{}]}, "mark": {"type": "text", "text": ["FATHER’S", "POINT"], "lineHeight": 46, "font": "Liberation Sans", "fontWeight": "bold", "fontSize": 41, "align": "right", "baseline": "alphabetic", "color": "black"},
 "encoding": {"x": {"datum": 1918.09, "type": "quantitative", "title": null, "scale": {"domain": [1905.913, 1984.0], "nice": false, "zero": false}, "axis": {"values": [1924.72,1925.73,1926.74,1927.75,1928.77,1929.78,1930.78,1931.78,1932.79,1933.8,1934.8,1935.81,1936.83,1937.84,1938.85,1939.86,1940.86,1941.87,1942.87,1943.87,1944.86,1945.83,1946.84,1947.84,1948.86,1949.87,1950.87,1951.87,1952.87,1953.87,1954.88,1955.87,1956.87,1957.86,1958.86,1961.95,1962.96,1965.0,1966.0,1967.0,1970.0,1971.0,1973.0,1974.0,1975.0,1976.0,1979.1,1980.1,1981.1], "labels": false, "domain": false, "grid": false, "tickSize": 5, "tickWidth": 1.6, "tickColor": "black", "title": null}},
 "y": {"datum": -0.125, "type": "quantitative", "scale": {"domain": [-2.65, 6.8], "nice": false, "zero": false}, "axis": null}}}
]
},
{
"width": 1347, "height": 225,
"layer": [
{"data": {"name": "sj"}, "mark": {"type": "line", "strokeWidth": 1.8, "color": "black", "clip": false},
 "encoding": {"x": {"field": "t", "type": "quantitative", "title": null, "scale": {"domain": [1905.913, 1984.0], "nice": false, "zero": false}, "axis": {"values": [1928.33,1929.35,1930.36,1931.36,1932.35,1933.35,1934.38,1935.38,1936.41,1937.41,1938.42,1939.4,1940.45,1941.43,1942.43,1943.44,1944.42,1945.43,1946.43,1947.46,1948.46,1949.45,1950.44,1951.42,1952.45,1953.45,1954.45,1955.44,1956.45,1957.41,1958.43,1959.44,1960.49,1961.51,1962.49,1963.5,1964.51,1965.53,1966.55,1967.56,1969.58,1970.61,1971.61,1972.62,1973.64,1974.61,1975.64,1976.64,1977.64,1978.67,1979.63,1980.66,1981.7], "labels": false, "domain": false, "grid": false, "tickSize": 5, "tickWidth": 1.6, "tickColor": "black", "title": null}},
 "y": {"field": "v", "type": "quantitative", "scale": {"domain": [-3.6, 7.65], "nice": false, "zero": false}, "axis": null},
 "detail": {"field": "g", "type": "nominal"}}},
{"data": {"values": [{"t": 1927.48, "v": -0.1}, {"t": 1983.48, "v": 0.05}]}, "mark": {"type": "line", "strokeWidth": 5, "color": "black", "strokeCap": "round"},
 "encoding": {"x": {"field": "t", "type": "quantitative", "title": null, "scale": {"domain": [1905.913, 1984.0], "nice": false, "zero": false}, "axis": {"values": [1928.33,1929.35,1930.36,1931.36,1932.35,1933.35,1934.38,1935.38,1936.41,1937.41,1938.42,1939.4,1940.45,1941.43,1942.43,1943.44,1944.42,1945.43,1946.43,1947.46,1948.46,1949.45,1950.44,1951.42,1952.45,1953.45,1954.45,1955.44,1956.45,1957.41,1958.43,1959.44,1960.49,1961.51,1962.49,1963.5,1964.51,1965.53,1966.55,1967.56,1969.58,1970.61,1971.61,1972.62,1973.64,1974.61,1975.64,1976.64,1977.64,1978.67,1979.63,1980.66,1981.7], "labels": false, "domain": false, "grid": false, "tickSize": 5, "tickWidth": 1.6, "tickColor": "black", "title": null}},
 "y": {"field": "v", "type": "quantitative", "scale": {"domain": [-3.6, 7.65], "nice": false, "zero": false}, "axis": null}}},
{"data": {"values": [{"v": 2}, {"v": 1}, {"v": -1}, {"v": -2}, {"v": -3}]}, "mark": {"type": "rule", "strokeWidth": 1.3, "color": "black"},
 "encoding": {"x": {"datum": 1928.0, "type": "quantitative", "title": null, "scale": {"domain": [1905.913, 1984.0], "nice": false, "zero": false}, "axis": {"values": [1928.33,1929.35,1930.36,1931.36,1932.35,1933.35,1934.38,1935.38,1936.41,1937.41,1938.42,1939.4,1940.45,1941.43,1942.43,1943.44,1944.42,1945.43,1946.43,1947.46,1948.46,1949.45,1950.44,1951.42,1952.45,1953.45,1954.45,1955.44,1956.45,1957.41,1958.43,1959.44,1960.49,1961.51,1962.49,1963.5,1964.51,1965.53,1966.55,1967.56,1969.58,1970.61,1971.61,1972.62,1973.64,1974.61,1975.64,1976.64,1977.64,1978.67,1979.63,1980.66,1981.7], "labels": false, "domain": false, "grid": false, "tickSize": 5, "tickWidth": 1.6, "tickColor": "black", "title": null}}, "x2": {"datum": 1928.24},
 "y": {"field": "v", "type": "quantitative", "scale": {"domain": [-3.6, 7.65], "nice": false, "zero": false}, "axis": null}}},
{"data": {"values": [{"v": 2}, {"v": 1}, {"v": -1}, {"v": -2}, {"v": -3}]}, "mark": {"type": "rule", "strokeWidth": 1.3, "color": "black"},
 "encoding": {"x": {"datum": 1982.02, "type": "quantitative", "title": null, "scale": {"domain": [1905.913, 1984.0], "nice": false, "zero": false}, "axis": {"values": [1928.33,1929.35,1930.36,1931.36,1932.35,1933.35,1934.38,1935.38,1936.41,1937.41,1938.42,1939.4,1940.45,1941.43,1942.43,1943.44,1944.42,1945.43,1946.43,1947.46,1948.46,1949.45,1950.44,1951.42,1952.45,1953.45,1954.45,1955.44,1956.45,1957.41,1958.43,1959.44,1960.49,1961.51,1962.49,1963.5,1964.51,1965.53,1966.55,1967.56,1969.58,1970.61,1971.61,1972.62,1973.64,1974.61,1975.64,1976.64,1977.64,1978.67,1979.63,1980.66,1981.7], "labels": false, "domain": false, "grid": false, "tickSize": 5, "tickWidth": 1.6, "tickColor": "black", "title": null}}, "x2": {"datum": 1982.26},
 "y": {"field": "v", "type": "quantitative", "scale": {"domain": [-3.6, 7.65], "nice": false, "zero": false}, "axis": null}}},
{"data": {"values": [{}]}, "mark": {"type": "text", "text": "SAINT\u00a0\u00a0\u00a0JOHN", "font": "Liberation Sans", "fontWeight": "bold", "fontSize": 41, "align": "right", "baseline": "alphabetic", "color": "black"},
 "encoding": {"x": {"datum": 1922.15, "type": "quantitative", "title": null, "scale": {"domain": [1905.913, 1984.0], "nice": false, "zero": false}, "axis": {"values": [1928.33,1929.35,1930.36,1931.36,1932.35,1933.35,1934.38,1935.38,1936.41,1937.41,1938.42,1939.4,1940.45,1941.43,1942.43,1943.44,1944.42,1945.43,1946.43,1947.46,1948.46,1949.45,1950.44,1951.42,1952.45,1953.45,1954.45,1955.44,1956.45,1957.41,1958.43,1959.44,1960.49,1961.51,1962.49,1963.5,1964.51,1965.53,1966.55,1967.56,1969.58,1970.61,1971.61,1972.62,1973.64,1974.61,1975.64,1976.64,1977.64,1978.67,1979.63,1980.66,1981.7], "labels": false, "domain": false, "grid": false, "tickSize": 5, "tickWidth": 1.6, "tickColor": "black", "title": null}},
 "y": {"datum": -1.93, "type": "quantitative", "scale": {"domain": [-3.6, 7.65], "nice": false, "zero": false}, "axis": null}}}
]
},
{
"width": 1347, "height": 207,
"layer": [
{"data": {"name": "cha"}, "mark": {"type": "line", "strokeWidth": 1.8, "color": "black", "clip": false},
 "encoding": {"x": {"field": "t", "type": "quantitative", "title": null, "scale": {"domain": [1905.913, 1984.0], "nice": false, "zero": false}, "axis": {"values": [1938.38,1939.35,1940.35,1941.37,1942.39,1943.36,1944.37,1945.37,1946.39,1947.36,1948.38,1949.39,1950.42,1951.42,1953.41,1954.38,1955.38,1956.35,1957.38,1958.34,1959.35,1962.43,1963.39,1964.45,1965.42,1966.43,1967.46,1969.48,1970.45,1971.46,1973.49,1974.51,1975.54,1976.54,1977.57,1979.54,1980.6,1981.57], "labels": false, "domain": false, "grid": false, "tickSize": 5, "tickWidth": 1.6, "tickColor": "black", "title": null}},
 "y": {"field": "v", "type": "quantitative", "scale": {"domain": [-2.6, 7.75], "nice": false, "zero": false}, "axis": null},
 "detail": {"field": "g", "type": "nominal"}}},
{"data": {"values": [{"t": 1937.62, "v": -0.1}, {"t": 1983.19, "v": -0.1}]}, "mark": {"type": "line", "strokeWidth": 5, "color": "black", "strokeCap": "round"},
 "encoding": {"x": {"field": "t", "type": "quantitative", "title": null, "scale": {"domain": [1905.913, 1984.0], "nice": false, "zero": false}, "axis": {"values": [1938.38,1939.35,1940.35,1941.37,1942.39,1943.36,1944.37,1945.37,1946.39,1947.36,1948.38,1949.39,1950.42,1951.42,1953.41,1954.38,1955.38,1956.35,1957.38,1958.34,1959.35,1962.43,1963.39,1964.45,1965.42,1966.43,1967.46,1969.48,1970.45,1971.46,1973.49,1974.51,1975.54,1976.54,1977.57,1979.54,1980.6,1981.57], "labels": false, "domain": false, "grid": false, "tickSize": 5, "tickWidth": 1.6, "tickColor": "black", "title": null}},
 "y": {"field": "v", "type": "quantitative", "scale": {"domain": [-2.6, 7.75], "nice": false, "zero": false}, "axis": null}}},
{"data": {"values": [{"v": 2}, {"v": 1}, {"v": -1}, {"v": -2}, {"v": -3}]}, "mark": {"type": "rule", "strokeWidth": 1.3, "color": "black"},
 "encoding": {"x": {"datum": 1937.97, "type": "quantitative", "title": null, "scale": {"domain": [1905.913, 1984.0], "nice": false, "zero": false}, "axis": {"values": [1938.38,1939.35,1940.35,1941.37,1942.39,1943.36,1944.37,1945.37,1946.39,1947.36,1948.38,1949.39,1950.42,1951.42,1953.41,1954.38,1955.38,1956.35,1957.38,1958.34,1959.35,1962.43,1963.39,1964.45,1965.42,1966.43,1967.46,1969.48,1970.45,1971.46,1973.49,1974.51,1975.54,1976.54,1977.57,1979.54,1980.6,1981.57], "labels": false, "domain": false, "grid": false, "tickSize": 5, "tickWidth": 1.6, "tickColor": "black", "title": null}}, "x2": {"datum": 1938.21},
 "y": {"field": "v", "type": "quantitative", "scale": {"domain": [-2.6, 7.75], "nice": false, "zero": false}, "axis": null}}},
{"data": {"values": [{"v": 2}, {"v": -1}, {"v": -2}, {"v": -3}]}, "mark": {"type": "rule", "strokeWidth": 1.3, "color": "black"},
 "encoding": {"x": {"datum": 1982.08, "type": "quantitative", "title": null, "scale": {"domain": [1905.913, 1984.0], "nice": false, "zero": false}, "axis": {"values": [1938.38,1939.35,1940.35,1941.37,1942.39,1943.36,1944.37,1945.37,1946.39,1947.36,1948.38,1949.39,1950.42,1951.42,1953.41,1954.38,1955.38,1956.35,1957.38,1958.34,1959.35,1962.43,1963.39,1964.45,1965.42,1966.43,1967.46,1969.48,1970.45,1971.46,1973.49,1974.51,1975.54,1976.54,1977.57,1979.54,1980.6,1981.57], "labels": false, "domain": false, "grid": false, "tickSize": 5, "tickWidth": 1.6, "tickColor": "black", "title": null}}, "x2": {"datum": 1982.32},
 "y": {"field": "v", "type": "quantitative", "scale": {"domain": [-2.6, 7.75], "nice": false, "zero": false}, "axis": null}}},
{"data": {"values": [{}]}, "mark": {"type": "text", "text": "CHARLOTTETOWN", "font": "Liberation Sans", "fontWeight": "bold", "fontSize": 41, "align": "right", "baseline": "alphabetic", "color": "black"},
 "encoding": {"x": {"datum": 1932.87, "type": "quantitative", "title": null, "scale": {"domain": [1905.913, 1984.0], "nice": false, "zero": false}, "axis": {"values": [1938.38,1939.35,1940.35,1941.37,1942.39,1943.36,1944.37,1945.37,1946.39,1947.36,1948.38,1949.39,1950.42,1951.42,1953.41,1954.38,1955.38,1956.35,1957.38,1958.34,1959.35,1962.43,1963.39,1964.45,1965.42,1966.43,1967.46,1969.48,1970.45,1971.46,1973.49,1974.51,1975.54,1976.54,1977.57,1979.54,1980.6,1981.57], "labels": false, "domain": false, "grid": false, "tickSize": 5, "tickWidth": 1.6, "tickColor": "black", "title": null}},
 "y": {"datum": -0.975, "type": "quantitative", "scale": {"domain": [-2.6, 7.75], "nice": false, "zero": false}, "axis": null}}}
]
},
{
"width": 1347, "height": 183,
"layer": [
{"data": {"name": "yar"}, "mark": {"type": "line", "strokeWidth": 1.8, "color": "black", "clip": false},
 "encoding": {"x": {"field": "t", "type": "quantitative", "title": null, "scale": {"domain": [1905.913, 1984.0], "nice": false, "zero": false}, "axis": {"values": [1967.7,1970.6,1971.7,1973.7,1974.7,1975.7,1976.7,1979.8,1980.8], "labels": false, "domain": false, "grid": false, "tickSize": 5, "tickWidth": 1.6, "tickColor": "black", "title": null}},
 "y": {"field": "v", "type": "quantitative", "scale": {"domain": [-1.6, 7.55], "nice": false, "zero": false}, "axis": null},
 "detail": {"field": "g", "type": "nominal"}}},
{"data": {"values": [{"t": 1966.09, "v": -0.1}, {"t": 1983.71, "v": -0.1}]}, "mark": {"type": "line", "strokeWidth": 3, "color": "black", "strokeCap": "round"},
 "encoding": {"x": {"field": "t", "type": "quantitative", "title": null, "scale": {"domain": [1905.913, 1984.0], "nice": false, "zero": false}, "axis": {"values": [1967.7,1970.6,1971.7,1973.7,1974.7,1975.7,1976.7,1979.8,1980.8], "labels": false, "domain": false, "grid": false, "tickSize": 5, "tickWidth": 1.6, "tickColor": "black", "title": null}},
 "y": {"field": "v", "type": "quantitative", "scale": {"domain": [-1.6, 7.55], "nice": false, "zero": false}, "axis": null}}},
{"data": {"values": [{"v": 2}, {"v": 1}, {"v": -1}, {"v": -2}]}, "mark": {"type": "rule", "strokeWidth": 1.3, "color": "black"},
 "encoding": {"x": {"datum": 1966.95, "type": "quantitative", "title": null, "scale": {"domain": [1905.913, 1984.0], "nice": false, "zero": false}, "axis": {"values": [1967.7,1970.6,1971.7,1973.7,1974.7,1975.7,1976.7,1979.8,1980.8], "labels": false, "domain": false, "grid": false, "tickSize": 5, "tickWidth": 1.6, "tickColor": "black", "title": null}}, "x2": {"datum": 1967.19},
 "y": {"field": "v", "type": "quantitative", "scale": {"domain": [-1.6, 7.55], "nice": false, "zero": false}, "axis": null}}},
{"data": {"values": [{"v": 1.95}, {"v": 0.95}, {"v": -1.1}, {"v": -2.1}]}, "mark": {"type": "rule", "strokeWidth": 1.3, "color": "black"},
 "encoding": {"x": {"datum": 1981.74, "type": "quantitative", "title": null, "scale": {"domain": [1905.913, 1984.0], "nice": false, "zero": false}, "axis": {"values": [1967.7,1970.6,1971.7,1973.7,1974.7,1975.7,1976.7,1979.8,1980.8], "labels": false, "domain": false, "grid": false, "tickSize": 5, "tickWidth": 1.6, "tickColor": "black", "title": null}}, "x2": {"datum": 1981.98},
 "y": {"field": "v", "type": "quantitative", "scale": {"domain": [-1.6, 7.55], "nice": false, "zero": false}, "axis": null}}},
{"data": {"values": [{}]}, "mark": {"type": "text", "text": "YARMOUTH", "font": "Liberation Sans", "fontWeight": "bold", "fontSize": 41, "align": "right", "baseline": "alphabetic", "color": "black"},
 "encoding": {"x": {"datum": 1963.01, "type": "quantitative", "title": null, "scale": {"domain": [1905.913, 1984.0], "nice": false, "zero": false}, "axis": {"values": [1967.7,1970.6,1971.7,1973.7,1974.7,1975.7,1976.7,1979.8,1980.8], "labels": false, "domain": false, "grid": false, "tickSize": 5, "tickWidth": 1.6, "tickColor": "black", "title": null}},
 "y": {"datum": -1.225, "type": "quantitative", "scale": {"domain": [-1.6, 7.55], "nice": false, "zero": false}, "axis": null}}}
]
},
{
"width": 1347, "height": 205,
"layer": [
{"data": {"name": "pic"}, "mark": {"type": "line", "strokeWidth": 1.8, "color": "black", "clip": false},
 "encoding": {"x": {"field": "t", "type": "quantitative", "title": null, "scale": {"domain": [1905.913, 1984.0], "nice": false, "zero": false}, "axis": {"values": [1966.1,1967.1,1968.1,1971.1,1972.1,1973.3,1974.3,1975.3,1976.2,1977.3,1979.3,1980.3,1981.4], "labels": false, "domain": false, "grid": false, "tickSize": 5, "tickWidth": 1.6, "tickColor": "black", "title": null}},
 "y": {"field": "v", "type": "quantitative", "scale": {"domain": [-1.65, 8.6], "nice": false, "zero": false}, "axis": null},
 "detail": {"field": "g", "type": "nominal"}}},
{"data": {"values": [{"t": 1965.04, "v": 0.1}, {"t": 1983.71, "v": -0.23}]}, "mark": {"type": "line", "strokeWidth": 5, "color": "black", "strokeCap": "round"},
 "encoding": {"x": {"field": "t", "type": "quantitative", "title": null, "scale": {"domain": [1905.913, 1984.0], "nice": false, "zero": false}, "axis": {"values": [1966.1,1967.1,1968.1,1971.1,1972.1,1973.3,1974.3,1975.3,1976.2,1977.3,1979.3,1980.3,1981.4], "labels": false, "domain": false, "grid": false, "tickSize": 5, "tickWidth": 1.6, "tickColor": "black", "title": null}},
 "y": {"field": "v", "type": "quantitative", "scale": {"domain": [-1.65, 8.6], "nice": false, "zero": false}, "axis": null}}},
{"data": {"values": [{"v": 3}, {"v": 1}, {"v": -1}, {"v": -2}]}, "mark": {"type": "rule", "strokeWidth": 1.3, "color": "black"},
 "encoding": {"x": {"datum": 1965.1, "type": "quantitative", "title": null, "scale": {"domain": [1905.913, 1984.0], "nice": false, "zero": false}, "axis": {"values": [1966.1,1967.1,1968.1,1971.1,1972.1,1973.3,1974.3,1975.3,1976.2,1977.3,1979.3,1980.3,1981.4], "labels": false, "domain": false, "grid": false, "tickSize": 5, "tickWidth": 1.6, "tickColor": "black", "title": null}}, "x2": {"datum": 1965.34},
 "y": {"field": "v", "type": "quantitative", "scale": {"domain": [-1.65, 8.6], "nice": false, "zero": false}, "axis": null}}},
{"data": {"values": [{"v": 1.7}, {"v": 0.7}, {"v": -1.25}, {"v": -2.15}]}, "mark": {"type": "rule", "strokeWidth": 1.3, "color": "black"},
 "encoding": {"x": {"datum": 1981.85, "type": "quantitative", "title": null, "scale": {"domain": [1905.913, 1984.0], "nice": false, "zero": false}, "axis": {"values": [1966.1,1967.1,1968.1,1971.1,1972.1,1973.3,1974.3,1975.3,1976.2,1977.3,1979.3,1980.3,1981.4], "labels": false, "domain": false, "grid": false, "tickSize": 5, "tickWidth": 1.6, "tickColor": "black", "title": null}}, "x2": {"datum": 1982.09},
 "y": {"field": "v", "type": "quantitative", "scale": {"domain": [-1.65, 8.6], "nice": false, "zero": false}, "axis": null}}},
{"data": {"values": [{}]}, "mark": {"type": "text", "text": "PICTOU", "font": "Liberation Sans", "fontWeight": "bold", "fontSize": 41, "align": "right", "baseline": "alphabetic", "color": "black"},
 "encoding": {"x": {"datum": 1960.58, "type": "quantitative", "title": null, "scale": {"domain": [1905.913, 1984.0], "nice": false, "zero": false}, "axis": {"values": [1966.1,1967.1,1968.1,1971.1,1972.1,1973.3,1974.3,1975.3,1976.2,1977.3,1979.3,1980.3,1981.4], "labels": false, "domain": false, "grid": false, "tickSize": 5, "tickWidth": 1.6, "tickColor": "black", "title": null}},
 "y": {"datum": -1.475, "type": "quantitative", "scale": {"domain": [-1.65, 8.6], "nice": false, "zero": false}, "axis": null}}}
]
},
{
"width": 1347, "height": 177,
"layer": [
{"data": {"name": "bou"}, "mark": {"type": "line", "strokeWidth": 1.8, "color": "black", "clip": false},
 "encoding": {"x": {"field": "t", "type": "quantitative", "title": null, "scale": {"domain": [1905.913, 1984.0], "nice": false, "zero": false}, "axis": {"values": [1968.52,1969.52,1970.55,1971.58,1972.58,1973.58,1974.61,1975.63,1976.64,1977.66,1978.67,1979.69,1980.7,1981.72], "labels": false, "domain": false, "grid": false, "tickSize": 5, "tickWidth": 1.6, "tickColor": "black", "title": null}},
 "y": {"field": "v", "type": "quantitative", "scale": {"domain": [-1.5, 7.35], "nice": false, "zero": false}, "axis": null}}},
{"data": {"values": [{"t": 1967.36, "v": 0}, {"t": 1983.71, "v": 0}]}, "mark": {"type": "line", "strokeWidth": 5, "color": "black", "strokeCap": "round"},
 "encoding": {"x": {"field": "t", "type": "quantitative", "title": null, "scale": {"domain": [1905.913, 1984.0], "nice": false, "zero": false}, "axis": {"values": [1968.52,1969.52,1970.55,1971.58,1972.58,1973.58,1974.61,1975.63,1976.64,1977.66,1978.67,1979.69,1980.7,1981.72], "labels": false, "domain": false, "grid": false, "tickSize": 5, "tickWidth": 1.6, "tickColor": "black", "title": null}},
 "y": {"field": "v", "type": "quantitative", "scale": {"domain": [-1.5, 7.35], "nice": false, "zero": false}, "axis": null}}},
{"data": {"values": [{"v": 2}, {"v": 1}, {"v": -1}, {"v": -1.8}]}, "mark": {"type": "rule", "strokeWidth": 1.3, "color": "black"},
 "encoding": {"x": {"datum": 1968.29, "type": "quantitative", "title": null, "scale": {"domain": [1905.913, 1984.0], "nice": false, "zero": false}, "axis": {"values": [1968.52,1969.52,1970.55,1971.58,1972.58,1973.58,1974.61,1975.63,1976.64,1977.66,1978.67,1979.69,1980.7,1981.72], "labels": false, "domain": false, "grid": false, "tickSize": 5, "tickWidth": 1.6, "tickColor": "black", "title": null}}, "x2": {"datum": 1968.53},
 "y": {"field": "v", "type": "quantitative", "scale": {"domain": [-1.5, 7.35], "nice": false, "zero": false}, "axis": null}}},
{"data": {"values": [{"v": 2.1}, {"v": 1.1}, {"v": -1}, {"v": -1.9}]}, "mark": {"type": "rule", "strokeWidth": 1.3, "color": "black"},
 "encoding": {"x": {"datum": 1982.14, "type": "quantitative", "title": null, "scale": {"domain": [1905.913, 1984.0], "nice": false, "zero": false}, "axis": {"values": [1968.52,1969.52,1970.55,1971.58,1972.58,1973.58,1974.61,1975.63,1976.64,1977.66,1978.67,1979.69,1980.7,1981.72], "labels": false, "domain": false, "grid": false, "tickSize": 5, "tickWidth": 1.6, "tickColor": "black", "title": null}}, "x2": {"datum": 1982.38},
 "y": {"field": "v", "type": "quantitative", "scale": {"domain": [-1.5, 7.35], "nice": false, "zero": false}, "axis": null}}},
{"data": {"values": [{}]}, "mark": {"type": "text", "text": "BOUTILIERS\u00a0\u00a0POINT", "font": "Liberation Sans", "fontWeight": "bold", "fontSize": 41, "align": "right", "baseline": "alphabetic", "color": "black"},
 "encoding": {"x": {"datum": 1963.59, "type": "quantitative", "title": null, "scale": {"domain": [1905.913, 1984.0], "nice": false, "zero": false}, "axis": {"values": [1968.52,1969.52,1970.55,1971.58,1972.58,1973.58,1974.61,1975.63,1976.64,1977.66,1978.67,1979.69,1980.7,1981.72], "labels": false, "domain": false, "grid": false, "tickSize": 5, "tickWidth": 1.6, "tickColor": "black", "title": null}},
 "y": {"datum": -1.425, "type": "quantitative", "scale": {"domain": [-1.5, 7.35], "nice": false, "zero": false}, "axis": null}}}
]
},
{
"width": 1347, "height": 80,
"data": {"values": [{"t": 1920}, {"t": 1980}]},
"mark": {"type": "point", "opacity": 0},
"encoding": {
"x": {"field": "t", "type": "quantitative", "scale": {"domain": [1905.913, 1984.0], "nice": false, "zero": false}, "axis": {"values": [1920, 1930, 1940, 1950, 1960, 1970, 1980], "format": "d", "labelAngle": -90, "labelFontSize": 32, "labelFont": "Liberation Sans", "labelFontWeight": "bold", "labelColor": "black", "ticks": false, "tickSize": 0, "domain": false, "grid": false, "labelPadding": 8, "labelOverlap": false, "labelFlush": false, "title": null}}
}
}
]
}
